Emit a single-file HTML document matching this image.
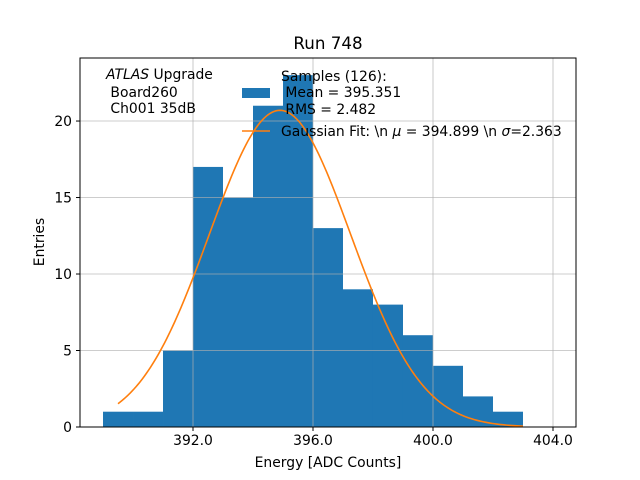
<!DOCTYPE html>
<html><head><meta charset="utf-8"><style>
body{margin:0;background:#fff}
svg{display:block;font-family:"DejaVu Sans","Liberation Sans",sans-serif}
text{white-space:pre}
</style></head><body>
<svg id="chart" width="640" height="480" xmlns="http://www.w3.org/2000/svg">
<text x="328" y="49" font-size="16.7" text-anchor="middle">Run 748</text>
<g id="bars"></g>
<g id="grid"></g>
<path id="fit" fill="none" stroke="#ff7f0e" stroke-width="1.6"/>
<rect x="80" y="58" width="496" height="369" fill="none" stroke="#000" stroke-width="1"/>
<g id="xticks"></g>
<g id="yticks"></g>
<text x="328" y="467" font-size="13.9" text-anchor="middle">Energy [ADC Counts]</text>
<text transform="translate(44,242) rotate(-90)" font-size="13.9" text-anchor="middle">Entries</text>
<g font-size="13.9">
<text x="106" y="79"><tspan font-style="italic">ATLAS</tspan> Upgrade</text>
<text x="106" y="97"> Board260</text>
<text x="106" y="113"> Ch001 35dB</text>
</g>
<g font-size="13.9">
<rect x="242" y="88" width="28" height="10" fill="#1f77b4"/>
<text x="281" y="81">Samples (126):</text>
<text x="281" y="97"> Mean = 395.351</text>
<text x="281" y="114"> RMS = 2.482</text>
<line x1="242" y1="131" x2="270" y2="131" stroke="#ff7f0e" stroke-width="1.6"/>
<text x="281" y="136">Gaussian Fit: \n <tspan font-style="italic">μ</tspan> = 394.899 \n <tspan font-style="italic">σ</tspan>=2.363</text>
</g>
</svg>
<script>
const binEdges=[389,390,391,392,393,394,395,396,397,398,399,400,401,402];
const counts=[1,1,5,17,15,21,23,13,9,8,6,4,2,1];
const xTicks=[392,396,400,404];
const yTicks=[0,5,10,15,20];
const fitMean=394.899, fitSigma=2.363, fitAmp=20.7;
const fitRange=[389.5,403];
const NS="http://www.w3.org/2000/svg";
const X0=80,X1=576,Y0=427,Y1=58;
const xmin=388.233,xmax=404.767,ymin=0,ymax=24.12;
const sx=v=>X0+(v-xmin)/(xmax-xmin)*(X1-X0);
const sy=v=>Y0-(v-ymin)/(ymax-ymin)*(Y0-Y1);
function mk(tag,attrs,parent){const e=document.createElementNS(NS,tag);for(const k in attrs)e.setAttribute(k,attrs[k]);parent.appendChild(e);return e;}
const bars=document.getElementById('bars');
counts.forEach((c,i)=>{
 const r=mk('rect',{x:sx(binEdges[i]),y:sy(c),width:sx(binEdges[i]+1)-sx(binEdges[i]),height:sy(0)-sy(c),fill:'#1f77b4'},bars);
 
 
});
const grid=document.getElementById('grid');
xTicks.forEach(t=>{const l=mk('line',{x1:sx(t),x2:sx(t),y1:Y1,y2:Y0,stroke:'#b0b0b0','stroke-width':0.8,opacity:0.85},grid);
 
 });
yTicks.forEach(t=>{const l=mk('line',{x1:X0,x2:X1,y1:sy(t),y2:sy(t),stroke:'#b0b0b0','stroke-width':0.8,opacity:0.85},grid);
 
 });
let d='';
for(let i=0;i<=200;i++){const x=fitRange[0]+(fitRange[1]-fitRange[0])*i/200;
 const y=fitAmp*Math.exp(-0.5*Math.pow((x-fitMean)/fitSigma,2));
 d+=(i?'L':'M')+sx(x).toFixed(2)+','+sy(y).toFixed(2);}
document.getElementById('fit').setAttribute('d',d);
const xt=document.getElementById('xticks');
xTicks.forEach(t=>{mk('line',{x1:sx(t),x2:sx(t),y1:Y0,y2:Y0+4,stroke:'#000'},xt);
 const tx=mk('text',{x:sx(t),y:Y0+18,'font-size':13.9,'text-anchor':'middle'},xt);tx.textContent=t.toFixed(1);
 
 });
const yt=document.getElementById('yticks');
yTicks.forEach(t=>{mk('line',{x1:X0-4,x2:X0,y1:sy(t),y2:sy(t),stroke:'#000'},yt);
 const tx=mk('text',{x:X0-8,y:sy(t)+5,'font-size':13.9,'text-anchor':'end'},yt);tx.textContent=t;
 
 });
</script>
</body></html>
